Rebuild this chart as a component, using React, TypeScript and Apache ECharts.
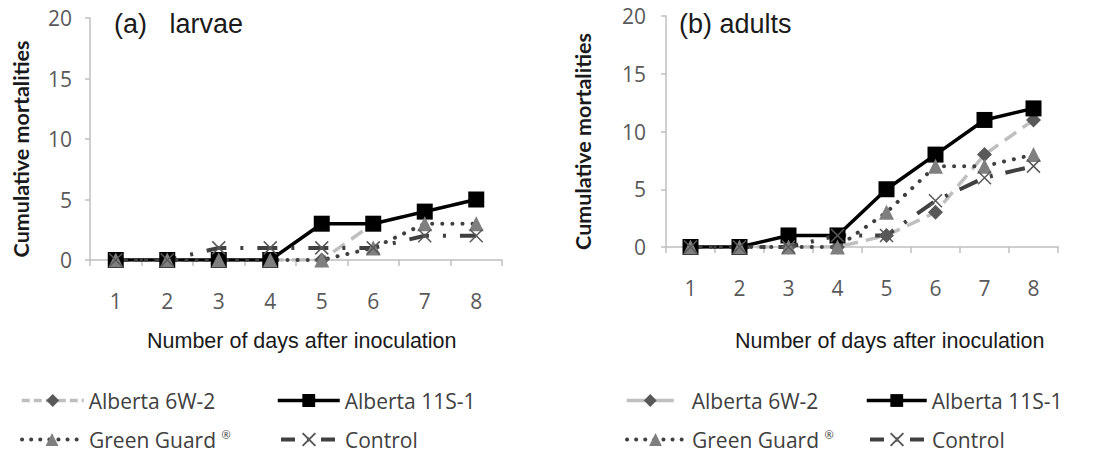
import React, { useEffect, useRef } from "react";
import * as echarts from "echarts";

const days = ["1", "2", "3", "4", "5", "6", "7", "8"];
const yTicks = [0, 5, 10, 15, 20];

const larvae6W2 = [0, 0, 0, 0, 0, 3, 4, 5];
const larvae11S1 = [0, 0, 0, 0, 3, 3, 4, 5];
const larvaeGreen = [0, 0, 0, 0, 0, 1, 3, 3];
const larvaeControl = [0, 0, 1, 1, 1, 1, 2, 2];

const adults6W2 = [0, 0, 0, 0, 1, 3, 8, 11];
const adults11S1 = [0, 0, 1, 1, 5, 8, 11, 12];
const adultsGreen = [0, 0, 0, 0, 3, 7, 7, 8];
const adultsControl = [0, 0, 0, 1, 1, 4, 6, 7];

const N6W2 = "Alberta 6W-2";
const N11S1 = "Alberta 11S-1";
const NGREEN = "Green Guard ®";
const NCTRL = "Control";

const XTITLE = "Number of days after inoculation";
const YTITLE = "Cumulative mortalities";

const CAL = "'Open Sans', 'Noto Sans', sans-serif";
const CALB = "Lato, 'Open Sans', sans-serif";
const ARIAL = "'Liberation Sans', Arial, sans-serif";
const XSYM = "path://M0,0L10,10M10,0L0,10";

function seriesFor(idx: number, d6: number[], d11: number[], dg: number[], dc: number[], ctrlDash: number[]) {
  return [
    {
      name: N6W2, type: "line", xAxisIndex: idx, yAxisIndex: idx, data: d6,
      symbol: "diamond", symbolSize: 15,
      itemStyle: { color: "#595959" },
      lineStyle: { color: "#bfbfbf", width: 3.5, type: [14, 8] },
    },
    {
      name: N11S1, type: "line", xAxisIndex: idx, yAxisIndex: idx, data: d11,
      symbol: "rect", symbolSize: 16,
      itemStyle: { color: "#000000" },
      lineStyle: { color: "#000000", width: 3.5 },
    },
    {
      name: NGREEN, type: "line", xAxisIndex: idx, yAxisIndex: idx, data: dg,
      symbol: "triangle", symbolSize: 15,
      itemStyle: { color: "#7f7f7f" },
      lineStyle: { color: "#404040", width: 4, type: [0.1, 10], cap: "round" },
    },
    {
      name: NCTRL, type: "line", xAxisIndex: idx, yAxisIndex: idx, data: dc,
      symbol: XSYM, symbolSize: 13,
      itemStyle: { color: "#595959", borderColor: "#595959", borderWidth: 1.5 },
      lineStyle: { color: "#404040", width: 4, type: ctrlDash, dashOffset: 10 },
    },
  ];
}

function legendItem(name: string, left: number, top: number, itemWidth: number, padLeft: number, lineStyle: any) {
  return {
    data: [name],
    left, top,
    orient: "horizontal",
    padding: 0,
    itemWidth,
    itemHeight: 16,
    selectedMode: false,
    lineStyle,
    formatter: (n: string) => (n === NGREEN ? "{n|Green Guard }{s|®}" : "{n|" + n + "}"),
    textStyle: {
      padding: [0, 0, 0, padLeft],
      rich: {
        n: { fontFamily: CAL, fontSize: 21, color: "#404040" },
        s: { fontFamily: CAL, fontSize: 11, color: "#404040", padding: [0, 0, 10, 0] },
      },
    },
  };
}

const axisGray = "#bfbfbf";

function xAxisFor(idx: number) {
  return {
    type: "category", gridIndex: idx, data: days, boundaryGap: true,
    axisLine: { lineStyle: { color: axisGray, width: 1.5 } },
    axisTick: { show: true, interval: 0, alignWithLabel: false, length: 6, lineStyle: { color: axisGray, width: 1.5 } },
    axisLabel: { interval: 0, margin: 30, fontFamily: CAL, fontSize: 21, color: "#595959" },
  };
}

function yAxisFor(idx: number, nameGap: number, margin: number) {
  return {
    type: "value", gridIndex: idx, min: yTicks[0], max: yTicks[yTicks.length - 1], interval: 5,
    axisLine: { show: true, lineStyle: { color: axisGray, width: 1.5 } },
    axisTick: { show: true, length: 5, lineStyle: { color: axisGray, width: 1.5 } },
    splitLine: { show: false },
    axisLabel: { margin, fontFamily: CAL, fontSize: 21, color: "#595959" },
    name: YTITLE,
    nameLocation: "middle", nameRotate: 90, nameGap,
    nameTextStyle: { fontFamily: CALB, fontSize: 21.5, fontWeight: "bold", color: "#1a1a1a", padding: [0, 20, 0, 0] },
  };
}

function titleAt(text: string, left: number, top: number, size: number) {
  return { text, left, top, padding: 0, textStyle: { fontFamily: ARIAL, fontSize: size, fontWeight: "normal", color: "#1a1a1a" } };
}

export default function App() {
  const ref = useRef<HTMLDivElement>(null);
  useEffect(() => {
    if (!ref.current) return;
    const chart = echarts.init(ref.current, null, { renderer: "svg" });
    const ls6 = { width: 3.5, color: "#bfbfbf", type: [8, 4] };
    const ls11 = { width: 3.5, color: "#000000" };
    const lsG = { width: 4, color: "#404040", type: [0.1, 9], cap: "round" };
    const lsC = { width: 4, color: "#404040", type: [14, 12, 2, 12], dashOffset: -3 };
    const option: any = {
      animation: false,
      backgroundColor: "#ffffff",
      title: [
        titleAt("(a)   larvae", 114, 10, 27),
        titleAt("(b) adults", 679, 10, 27),
        titleAt(XTITLE, 147, 330, 21.5),
        titleAt(XTITLE, 735, 330, 21.5),
      ],
      grid: [
        { left: 90, right: 595, top: 18, bottom: 196, containLabel: false, outerBoundsMode: "none" },
        { left: 666, right: 39, top: 16, bottom: 209, containLabel: false, outerBoundsMode: "none" },
      ],
      xAxis: [xAxisFor(0), xAxisFor(1)],
      yAxis: [yAxisFor(0, 58, 18), yAxisFor(1, 72, 20)],
      legend: [
        legendItem(N6W2, 20, 390, 62, 0, ls6),
        legendItem(N11S1, 276, 390, 62, 0, ls11),
        legendItem(NGREEN, 20, 429, 60, 2, lsG),
        legendItem(NCTRL, 276, 429, 62, 0, lsC),
        legendItem(N6W2, 625, 390, 47, 13, { width: 3.5, color: "#bfbfbf", type: "solid" }),
        legendItem(N11S1, 865, 390, 60, 0, ls11),
        legendItem(NGREEN, 625, 429, 57, 3, lsG),
        legendItem(NCTRL, 865, 429, 60, 0, lsC),
      ],
      series: [
        ...seriesFor(0, larvae6W2, larvae11S1, larvaeGreen, larvaeControl, [20, 14, 3, 14]),
        ...seriesFor(1, adults6W2, adults11S1, adultsGreen, adultsControl, [20, 13, 3, 13]),
      ],
    };
    chart.setOption(option);
    return () => chart.dispose();
  }, []);
  return (
    <div
      ref={ref}
      style={{ position: "absolute", left: 0, top: 0, width: 1097, height: 456, background: "#fff" }}
    />
  );
}
